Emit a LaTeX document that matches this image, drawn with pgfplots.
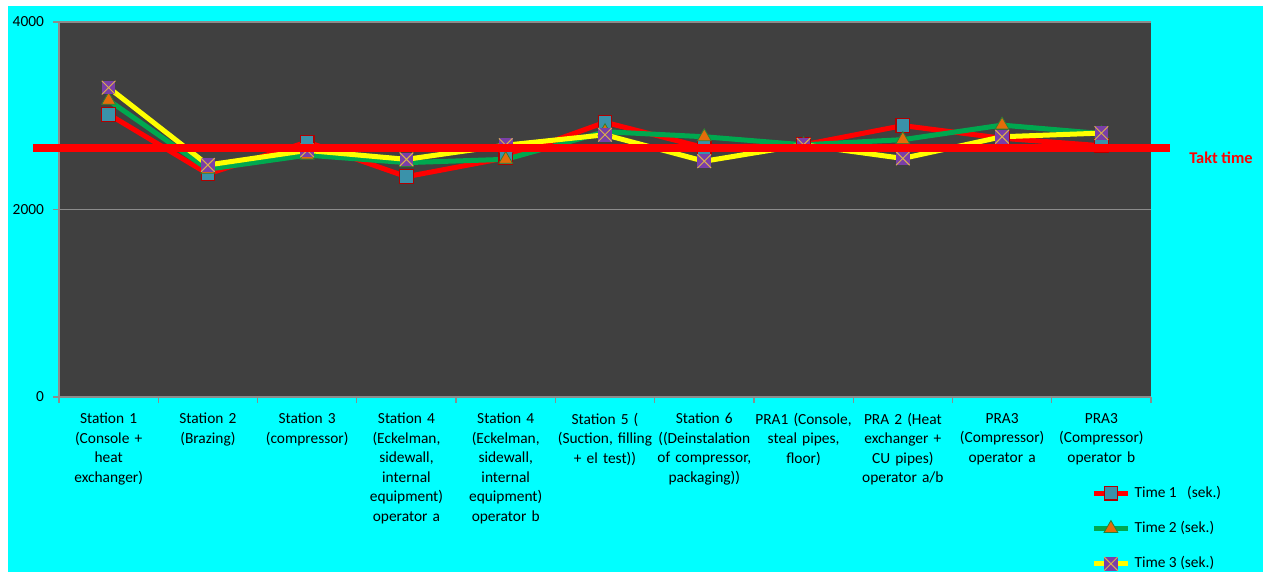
\documentclass[border=0pt]{standalone}
\usepackage{pgfplots}
\pgfplotsset{compat=1.18}
\usepackage{fontspec}
\setmainfont{Carlito}
\definecolor{cyanbg}{HTML}{00FFFF}
\definecolor{plotbg}{HTML}{404040}
\definecolor{gridgray}{HTML}{8C8C8C}
\definecolor{s1}{HTML}{FF0000}
\definecolor{s2}{HTML}{00A84F}
\definecolor{s3}{HTML}{FFFF00}
\definecolor{m1fill}{HTML}{3A92AA}
\definecolor{m1draw}{HTML}{B00000}
\definecolor{m2fill}{HTML}{E46C0A}
\definecolor{m2draw}{HTML}{2E7D32}
\definecolor{m3fill}{HTML}{7A3FA8}
\definecolor{m3x}{HTML}{DDB24A}
\pgfdeclareplotmark{sqx}{%
  \pgfpathrectangle{\pgfqpoint{-\pgfplotmarksize}{-\pgfplotmarksize}}{\pgfqpoint{2\pgfplotmarksize}{2\pgfplotmarksize}}%
  \pgfsetfillcolor{m3fill}\pgfusepath{fill}%
  \pgfsetstrokecolor{m3x}\pgfsetlinewidth{0.5pt}%
  \pgfpathmoveto{\pgfqpoint{-\pgfplotmarksize}{-\pgfplotmarksize}}\pgfpathlineto{\pgfqpoint{\pgfplotmarksize}{\pgfplotmarksize}}%
  \pgfpathmoveto{\pgfqpoint{-\pgfplotmarksize}{\pgfplotmarksize}}\pgfpathlineto{\pgfqpoint{\pgfplotmarksize}{-\pgfplotmarksize}}%
  \pgfusepath{stroke}}
\pgfplotsset{frame/.style={
  at={(29.5pt,87.5pt)}, anchor=south west,
  scale only axis, width=546pt, height=187.5pt,
  xmin=-0.5, xmax=10.5, ymin=0, ymax=4000, clip=false}}
\begin{document}
\begin{tikzpicture}
\fill[white] (0,0) rectangle (634.5pt,286pt);
\fill[cyanbg] (4pt,0pt) rectangle (631.5pt,283pt);
\begin{axis}[
  frame,
  axis background/.style={fill=plotbg},
  axis x line*=bottom, axis y line*=left,
  axis line style={gridgray, line width=0.8pt},
  tick align=outside,
  xtick={0,...,10},
  minor xtick={-0.5,0.5,...,10.5},
  major x tick style={draw=none},
  minor x tick style={gridgray, line width=0.6pt},
  minor tick length=3pt,
  ytick={0,2000,4000},
  y tick style={gridgray, line width=0.6pt},
  major tick length=3pt,
  ymajorgrids, grid style={gridgray, line width=0.6pt},
  /pgf/number format/assume math mode=true,
  /pgf/number format/1000 sep={},
  tick label style={font=\fontsize{7.7}{9.75}\selectfont},
  y tick label style={xshift=-1pt},
  x tick label style={align=center, text width=52pt, yshift=-1.5pt},
  xticklabels={
    {Station 1\\(Console +\\heat\\exchanger)},
    {Station 2\\(Brazing)},
    {Station 3\\(compressor)},
    {Station 4\\(Eckelman,\\sidewall,\\internal\\equipment)\\operator a},
    {Station 4\\(Eckelman,\\sidewall,\\internal\\equipment)\\operator b},
    {Station 5 (\\(Suction, filling\\+ el test))},
    {Station 6\\((Deinstalation\\of compressor,\\packaging))},
    {PRA1 (Console,\\steal pipes,\\floor)},
    {PRA 2 (Heat\\exchanger +\\CU pipes)\\operator a/b},
    {PRA3\\(Compressor)\\operator a},
    {PRA3\\(Compressor)\\operator b}},
  legend style={at={(axis description cs:0.945,-0.226)}, anchor=north west,
    draw=none, fill=none, font=\fontsize{7.7}{9.75}\selectfont,
    row sep=6.5pt, inner sep=0pt},
  legend cell align=left,
]
\addplot[s1, line width=2.5pt, mark=square*, mark size=3.4pt,
  mark options={fill=m1fill, draw=m1draw, line width=0.6pt}]
  coordinates {(0,3015) (1,2380) (2,2720) (3,2350) (4,2550) (5,2930) (6,2660) (7,2690) (8,2895) (9,2760) (10,2680)};
\addlegendentry{Time 1\ \ \ (sek.)}
\addplot[s2, line width=2.5pt, mark=triangle*, mark size=4pt,
  mark options={fill=m2fill, draw=m2draw, line width=0.4pt}]
  coordinates {(0,3165) (1,2430) (2,2580) (3,2500) (4,2535) (5,2830) (6,2776) (7,2690) (8,2745) (9,2900) (10,2810)};
\addlegendentry{Time 2 (sek.)}
\addplot[s3, line width=2.5pt, mark=sqx, mark size=3.4pt]
  coordinates {(0,3300) (1,2475) (2,2630) (3,2535) (4,2686) (5,2797) (6,2515) (7,2690) (8,2545) (9,2776) (10,2815)};
\addlegendentry{Time 3 (sek.)}
\end{axis}
\begin{axis}[frame, hide axis]
\addplot[s1, line width=3.6pt, forget plot] coordinates {(-0.76,2655) (10.69,2655)};
\end{axis}
\node[text=red, font=\bfseries\fontsize{8.2}{10}\selectfont] at (610.5pt,207pt) {Takt time};
\end{tikzpicture}
\end{document}
